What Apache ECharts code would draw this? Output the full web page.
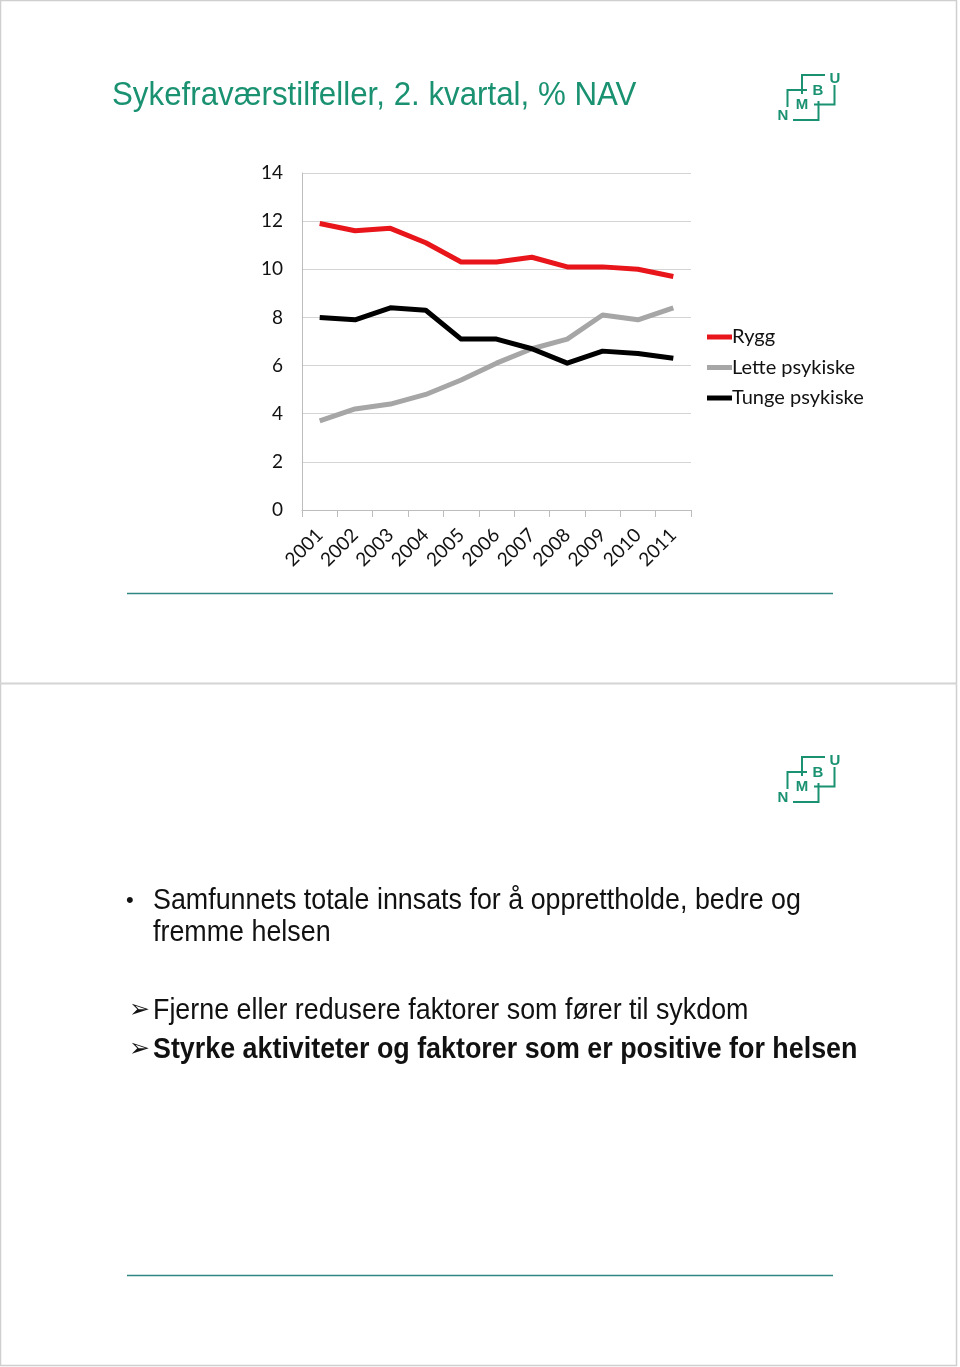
<!DOCTYPE html>
<html>
<head>
<meta charset="utf-8">
<script src="https://cdn.jsdelivr.net/npm/echarts@6/dist/echarts.min.js"></script>
<style>
html,body{margin:0;padding:0;background:#fff;}
#c{width:960px;height:1367px;}
</style>
</head>
<body>
<div id="c"></div>
<script>
const years = ['2001','2002','2003','2004','2005','2006','2007','2008','2009','2010','2011'];
const rygg  = [11.9, 11.6, 11.7, 11.1, 10.3, 10.3, 10.5, 10.1, 10.1, 10.0, 9.7];
const lette = [3.7, 4.2, 4.4, 4.8, 5.4, 6.1, 6.7, 7.1, 8.1, 7.9, 8.4];
const tunge = [8.0, 7.9, 8.4, 8.3, 7.1, 7.1, 6.7, 6.1, 6.6, 6.5, 6.3];
const seriesNames = ['Rygg', 'Lette psykiske', 'Tunge psykiske'];
const titleText = 'Sykefraværstilfeller, 2. kvartal, % NAV';
const bulletLines = ['Samfunnets totale innsats for å opprettholde, bedre og', 'fremme helsen'];
const arrowLines = ['Fjerne eller redusere faktorer som fører til sykdom', 'Styrke aktiviteter og faktorer som er positive for helsen'];

const GREEN = '#1a9272';
const SANS = '"Liberation Sans", Arial, sans-serif';
const BODY_SCALE = 0.926;

function logo(dy) {
  const ls = {stroke: GREEN, lineWidth: 2, fill: null};
  const pl = (pts) => ({type: 'polyline', shape: {points: pts.map(p => [p[0], p[1] + dy])}, style: ls, silent: true});
  const tx = (t, x, y) => ({type: 'text', x: x, y: y + dy, style: {text: t, fill: GREEN, font: 'bold 15px ' + SANS, textAlign: 'center', textVerticalAlign: 'middle'}});
  return [
    pl([[825, 75], [802, 75], [802, 94]]),
    pl([[807, 90], [787.5, 90], [787.5, 107]]),
    pl([[834.5, 85], [834.5, 104.5], [814, 104.5]]),
    pl([[818.5, 101], [818.5, 120], [793, 120]]),
    tx('N', 783, 115.5),
    tx('M', 802, 104.5),
    tx('B', 818, 90.5),
    tx('U', 835, 78.5)
  ];
}

const bodyText = (t, x, y, bold) => ({
  type: 'text', x: x, y: y, scaleX: BODY_SCALE,
  style: {text: t, fill: '#111', font: (bold ? 'bold ' : '') + '29px ' + SANS, textVerticalAlign: 'middle'}
});

const graphics = [
  {type: 'rect', shape: {x: 0.5, y: 0.5, width: 956, height: 1365}, style: {stroke: '#cfcfcf', lineWidth: 1.5, fill: null}, silent: true},
  {type: 'line', shape: {x1: 0, y1: 683.5, x2: 957, y2: 683.5}, style: {stroke: '#d4d4d4', lineWidth: 2}, silent: true},
  {type: 'line', shape: {x1: 127, y1: 593.5, x2: 833, y2: 593.5}, style: {stroke: '#2f8783', lineWidth: 1.5}, silent: true},
  {type: 'line', shape: {x1: 127, y1: 1275.5, x2: 833, y2: 1275.5}, style: {stroke: '#2f8783', lineWidth: 1.5}, silent: true},
  {type: 'text', x: 112, y: 96, scaleX: 0.948, style: {text: titleText, fill: GREEN, font: '33px ' + SANS, textVerticalAlign: 'middle'}},
  {type: 'text', x: 126, y: 901, style: {text: '•', fill: '#111', font: '22px ' + SANS, textVerticalAlign: 'middle'}},
  bodyText(bulletLines[0], 153, 901, false),
  bodyText(bulletLines[1], 153, 933, false),
  {type: 'text', x: 129, y: 1010, style: {text: '➢', fill: '#111', font: '25px "DejaVu Sans", sans-serif', textVerticalAlign: 'middle'}},
  bodyText(arrowLines[0], 153, 1011, false),
  {type: 'text', x: 129, y: 1049, style: {text: '➢', fill: '#111', font: '25px "DejaVu Sans", sans-serif', textVerticalAlign: 'middle'}},
  bodyText(arrowLines[1], 153, 1050, true)
].concat(logo(0), logo(682));

const chart = echarts.init(document.getElementById('c'), null, {renderer: 'canvas'});
const LBL = {fontFamily: 'Lato, "Open Sans", sans-serif', fontSize: 19, color: '#111'};
const mkSeries = (name, data, color) => ({
  name: name, type: 'line', data: data, symbol: 'none', showSymbol: false,
  lineStyle: {color: color, width: 5, join: 'round'}, itemStyle: {color: color}, z: 3,
  emphasis: {disabled: true}, animation: false
});
chart.setOption({
  backgroundColor: '#ffffff',
  animation: false,
  grid: {left: 302, top: 173, width: 389, height: 337, containLabel: false},
  legend: {
    orient: 'vertical', left: 707, top: 327, padding: 0, itemWidth: 25, itemHeight: 5, itemGap: 10.5,
    icon: 'rect',
    data: seriesNames.map(n => ({name: n})),
    textStyle: {fontFamily: 'Lato, "Open Sans", sans-serif', fontSize: 20, color: '#111', lineHeight: 20, padding: [0, 0, 0, -5]},
    itemStyle: {borderWidth: 0}, selectedMode: false
  },
  xAxis: {
    type: 'category', data: years, boundaryGap: true,
    axisLine: {lineStyle: {color: '#bdbdbd', width: 1}},
    axisTick: {show: true, length: 7, lineStyle: {color: '#bdbdbd'}},
    axisLabel: Object.assign({rotate: 45, margin: 22, interval: 0}, LBL)
  },
  yAxis: {
    type: 'value', min: 0, max: 14, interval: 2,
    axisLine: {show: true, lineStyle: {color: '#bdbdbd', width: 1}},
    axisTick: {show: false},
    splitLine: {lineStyle: {color: '#d4d4d4', width: 1}},
    axisLabel: Object.assign({margin: 19}, LBL)
  },
  graphic: graphics,
  series: [
    mkSeries(seriesNames[0], rygg, '#e8151b'),
    mkSeries(seriesNames[1], lette, '#a6a6a6'),
    mkSeries(seriesNames[2], tunge, '#000000')
  ]
});
</script>
</body>
</html>
